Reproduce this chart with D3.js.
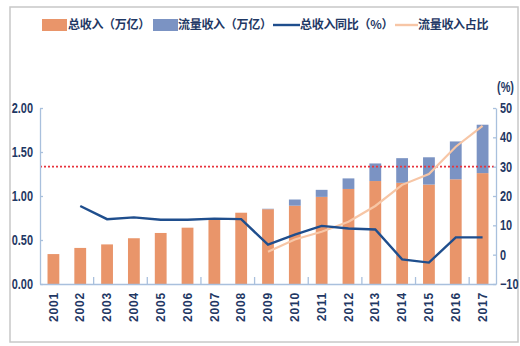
<!DOCTYPE html>
<html><head><meta charset="utf-8">
<script src="https://cdn.jsdelivr.net/npm/d3@7"></script>
<style>body{margin:0;background:#fff}</style>
</head><body><svg id="c" width="520" height="346"></svg>
<script>
const years = ["2001","2002","2003","2004","2005","2006","2007","2008","2009","2010","2011","2012","2013","2014","2015","2016","2017"];
const totalRev = [0.34,0.41,0.45,0.52,0.58,0.64,0.74,0.81,0.85,0.89,0.99,1.08,1.17,1.15,1.13,1.19,1.26];
const flowRev  = [0,0,0,0,0,0,0,0,0.005,0.07,0.08,0.12,0.20,0.28,0.31,0.43,0.55];
const growthYoY = [null,16.6,12.1,12.7,11.9,11.9,12.3,12.1,3.4,6.8,9.8,8.9,8.6,-1.6,-2.7,5.9,5.9];
const flowShare = [null,null,null,null,null,null,null,null,1.0,5.2,7.8,11.2,16.6,23.8,27.5,36.8,43.9];
const leftTicks = [0,0.5,1.0,1.5,2.0];
const rightTicks = [-10,0,10,20,30,40,50];
const refLine = 30;
const legendLabels = ["总收入（万亿）","流量收入（万亿）","总收入同比（%）","流量收入占比"];

const C = {orange:"#E9956A", blue:"#7B93C3", dark:"#1F4E8D", peach:"#F7C6A6", red:"#E8333C", axis:"#A9C0DD", text:"#1F3864"};
const svg = d3.select("#c");
const L=40, R=496, T=108, B=284;
const FONT = "'Liberation Sans',Arial,sans-serif";
const SX = 0.78;

svg.append("rect").attr("x",10).attr("y",7).attr("width",508).attr("height",335)
  .attr("fill","none").attr("stroke","#c8c8c8").attr("stroke-width",1.5);

const x = d3.scaleBand().domain(years).range([L,R]).paddingInner(0.56).paddingOuter(0.28);
const step = (R-L)/years.length;
const yL = d3.scaleLinear().domain([0,2]).range([B,T]);
const yR = d3.scaleLinear().domain([-10,50]).range([B,T]);

// bars
svg.append("g").selectAll("rect").data(years).join("rect")
  .attr("x",d=>x(d)).attr("width",x.bandwidth())
  .attr("y",(d,i)=>yL(totalRev[i])).attr("height",(d,i)=>yL(0)-yL(totalRev[i]))
  .attr("fill",C.orange);
svg.append("g").selectAll("rect").data(years).join("rect")
  .attr("x",d=>x(d)).attr("width",x.bandwidth())
  .attr("y",(d,i)=>yL(totalRev[i]+flowRev[i])).attr("height",(d,i)=>yL(0)-yL(flowRev[i]))
  .attr("fill",C.blue);

// ref line
svg.append("line").attr("x1",L).attr("x2",R).attr("y1",yR(refLine)).attr("y2",yR(refLine))
  .attr("stroke",C.red).attr("stroke-width",1.6).attr("stroke-dasharray","2,2");

// lines
const cx = d=>x(d)+x.bandwidth()/2;
const lineG = d3.line().defined(d=>d[1]!=null).x(d=>cx(d[0])).y(d=>yR(d[1]));
svg.append("path").datum(years.map((y,i)=>[y,flowShare[i]])).attr("d",lineG)
  .attr("fill","none").attr("stroke",C.peach).attr("stroke-width",2.2);
svg.append("path").datum(years.map((y,i)=>[y,growthYoY[i]])).attr("d",lineG)
  .attr("fill","none").attr("stroke",C.dark).attr("stroke-width",2.4);

// axes
const gl = svg.append("g").attr("transform",`translate(${L},0)`)
  .call(d3.axisLeft(yL).tickValues(leftTicks).tickFormat(d3.format(".2f")).tickSizeInner(-3).tickSizeOuter(0));
const gr = svg.append("g").attr("transform",`translate(${R},0)`)
  .call(d3.axisRight(yR).tickValues(rightTicks).tickSizeInner(-3).tickSizeOuter(0));
const gx = svg.append("g").attr("transform",`translate(0,${B})`)
  .call(d3.axisBottom(x).tickSize(0).tickPadding(6));
[gl,gr,gx].forEach(g=>{
  g.select(".domain").attr("stroke",C.axis).attr("stroke-width",1.3);
  g.selectAll(".tick line").attr("stroke",C.axis).attr("stroke-width",1.3);
  g.selectAll("text").attr("fill",C.text).attr("font-family",FONT).attr("font-weight","bold")
    .attr("font-size",14);
});
gl.selectAll("text").attr("transform",`scale(${SX},1)`).attr("x",-7/SX);
gr.selectAll("text").attr("transform",`scale(${SX},1)`).attr("x",4/SX);
gx.selectAll("text").attr("transform","rotate(-90)").attr("text-anchor","end")
  .attr("x",-8).attr("y",0).attr("dy","0.35em")
  .attr("font-size",12).attr("letter-spacing","0.8px");
// boundary ticks every two bands
const bt = d3.range(2,years.length,2);
svg.append("g").selectAll("line").data(bt).join("line")
  .attr("x1",d=>L+d*step).attr("x2",d=>L+d*step).attr("y1",B).attr("y2",B-7)
  .attr("stroke",C.axis).attr("stroke-width",1.3);

svg.append("text").attr("transform",`translate(497,92) scale(${SX},1)`).text("(%)").attr("fill",C.text)
  .attr("font-family",FONT).attr("font-weight","bold").attr("font-size",14);

// legend
const lg = svg.append("g");
const lx = [42,153,273,395];
[0,1].forEach(i=>lg.append("rect").attr("x",lx[i]).attr("y",19).attr("width",25).attr("height",12)
  .attr("fill",i?C.blue:C.orange));
[2,3].forEach(i=>lg.append("line").attr("x1",lx[i]).attr("x2",lx[i]+(i==2?27:23)).attr("y1",25).attr("y2",25)
  .attr("stroke",i==2?C.dark:C.peach).attr("stroke-width",2.4));
const tx=[68,178,300,418];
legendLabels.forEach((t,i)=>lg.append("text").attr("x",tx[i]).attr("y",25).attr("dy","0.36em")
  .text(t).attr("fill",C.text).attr("font-family","'Noto Sans CJK SC',sans-serif")
  .attr("font-weight","bold").attr("font-size",12).attr("letter-spacing","-0.3px"));
</script></body></html>
